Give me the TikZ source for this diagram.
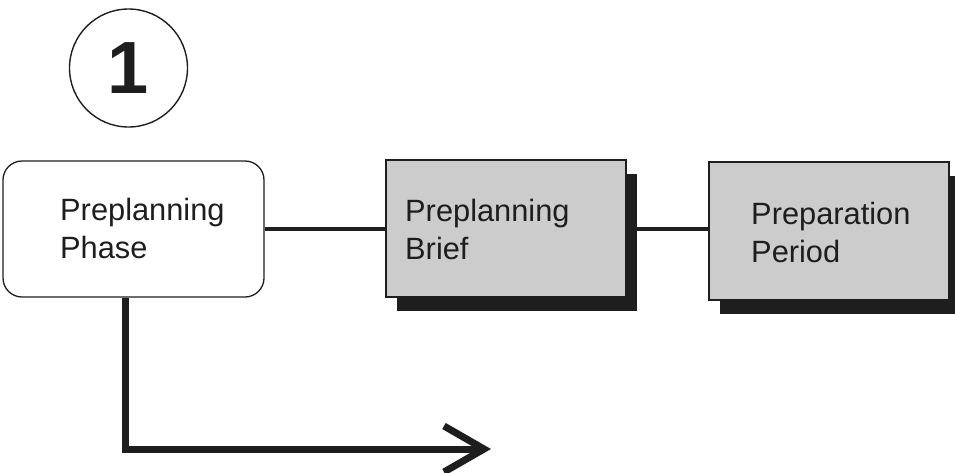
\documentclass[tikz,border=0pt]{standalone}
\usepackage{fontspec}
\setmainfont{Liberation Sans}
\usetikzlibrary{arrows.meta,shadows}
\definecolor{ink}{HTML}{1E1E1E}
\definecolor{boxgray}{HTML}{CCCCCC}
\begin{document}
\begin{tikzpicture}[x=1pt,y=-1pt,
  roundbox/.style={draw=ink, line width=1.3pt, rounded corners=19pt, fill=white,
    minimum width=261pt, minimum height=136pt, inner sep=0pt},
  shadebox/.style={draw=ink, line width=1.3pt, fill=boxgray, inner sep=0pt,
    minimum width=240pt,
    drop shadow={shadow xshift=11pt, shadow yshift=-14pt, fill=ink, opacity=1}},
  lbl/.style={anchor=base west, inner sep=0pt, text=ink, align=left,
    font=\fontsize{30.8}{38}\selectfont},
  conn/.style={draw=ink, line width=4pt},
  bigarrow/.style={draw=ink, line width=7pt,
    -{Straight Barb[length=40pt,width=46pt]}}]
\useasboundingbox (0,0) rectangle (955,472);
% numbered circle
\node[draw=ink, line width=1.4pt, circle, minimum size=118pt, inner sep=0pt,
  text=ink, font=\fontsize{74}{74}\bfseries\selectfont] (num) at (128.5,68) {1};
% boxes
\node[roundbox] (b1) at (133.5,229) {};
\node[shadebox, minimum height=137pt] (b2) at (506,228.5) {};
\node[shadebox, minimum height=138pt] (b3) at (829,231) {};
% labels (anchored at the baseline of their last line)
\node[lbl] (t1) at (60,258) {Preplanning\\Phase};
\node[lbl] (t2) at (405,259) {Preplanning\\Brief};
\node[lbl] (t3) at (751,262) {Preparation\\Period};
% connectors
\draw[conn] (b1.east |- 0,229) -- (b2.west |- 0,229);
\draw[conn] (b2.east |- 0,229) -- (b3.west |- 0,229);
\coordinate (corner) at (125.5,449);
\coordinate (tip) at (491,449);
\draw[bigarrow] (b1.south -| corner) -- (corner) -- (tip);
\end{tikzpicture}
\end{document}
